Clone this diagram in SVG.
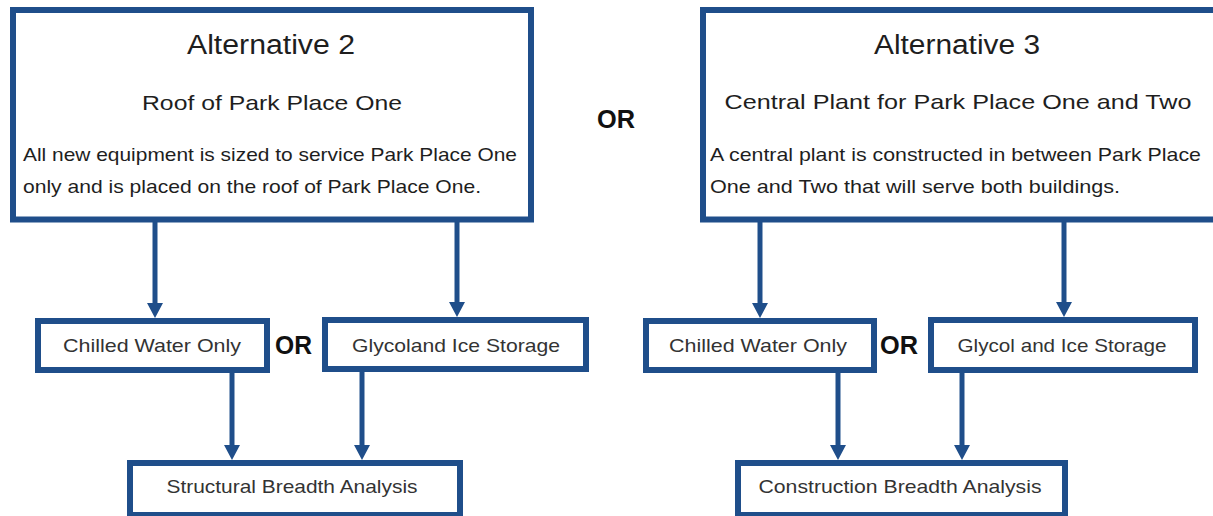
<svg xmlns="http://www.w3.org/2000/svg" width="1213" height="516" viewBox="0 0 1213 516">
  <style>
    .box { fill: #ffffff; stroke: #1f4e8a; stroke-width: 6; }
    .conn { stroke: #1f4e8a; stroke-width: 5; fill: none; }
    .t { font-family: "Liberation Sans", Arial, sans-serif; fill: #1e1e1e; }
    .title { font-size: 27px; text-anchor: middle; }
    .sub { font-size: 21px; text-anchor: middle; }
    .body { font-size: 19px; }
    .lab { font-size: 19px; fill: #333333; text-anchor: middle; }
    .or { font-family: "Liberation Sans", Arial, sans-serif; font-size: 25px; font-weight: bold; fill: #111111; }
  </style>
  <defs>
    <marker id="arrow" markerUnits="userSpaceOnUse" markerWidth="16" markerHeight="16" refX="0" refY="8" orient="auto">
      <path d="M0,0 L15,8 L0,16 z" fill="#1f4e8a"/>
    </marker>
  </defs>
  <rect width="1213" height="516" fill="#ffffff"/>

  <g id="connectors">
    <line class="conn" x1="155" y1="222" x2="155" y2="303" marker-end="url(#arrow)"/>
    <line class="conn" x1="457" y1="222" x2="457" y2="302" marker-end="url(#arrow)"/>
    <line class="conn" x1="232" y1="372" x2="232" y2="445" marker-end="url(#arrow)"/>
    <line class="conn" x1="362" y1="371" x2="362" y2="445" marker-end="url(#arrow)"/>
    <line class="conn" x1="760" y1="222" x2="760" y2="303" marker-end="url(#arrow)"/>
    <line class="conn" x1="1064" y1="222" x2="1064" y2="302" marker-end="url(#arrow)"/>
    <line class="conn" x1="838" y1="372" x2="838" y2="445" marker-end="url(#arrow)"/>
    <line class="conn" x1="962" y1="372" x2="962" y2="445" marker-end="url(#arrow)"/>
  </g>

  <g id="alt2">
    <rect class="box" x="13" y="10" width="518" height="209.5"/>
    <text class="t title" x="271" y="54" textLength="168" lengthAdjust="spacingAndGlyphs">Alternative 2</text>
    <text class="t sub" x="272" y="110" textLength="260" lengthAdjust="spacingAndGlyphs">Roof of Park Place One</text>
    <text class="t body" x="23" y="161" textLength="494" lengthAdjust="spacingAndGlyphs">All new equipment is sized to service Park Place One</text>
    <text class="t body" x="23" y="193" textLength="458" lengthAdjust="spacingAndGlyphs">only and is placed on the roof of Park Place One.</text>
  </g>

  <g id="alt3">
    <rect class="box" x="703" y="10" width="520" height="209.5"/>
    <text class="t title" x="957" y="54" textLength="166" lengthAdjust="spacingAndGlyphs">Alternative 3</text>
    <text class="t sub" x="958" y="109" textLength="467" lengthAdjust="spacingAndGlyphs">Central Plant for Park Place One and Two</text>
    <text class="t body" x="710" y="161" textLength="491" lengthAdjust="spacingAndGlyphs">A central plant is constructed in between Park Place</text>
    <text class="t body" x="710" y="193" textLength="410" lengthAdjust="spacingAndGlyphs">One and Two that will serve both buildings.</text>
  </g>

  <g id="or-top">
    <text class="or" x="597" y="128" textLength="38" lengthAdjust="spacingAndGlyphs">OR</text>
  </g>

  <g id="chilled-left">
    <rect class="box" x="38" y="321" width="229" height="49"/>
    <text class="t lab" x="152" y="352" textLength="178" lengthAdjust="spacingAndGlyphs">Chilled Water Only</text>
  </g>
  <g id="or-left">
    <text class="or" x="275" y="354" textLength="37" lengthAdjust="spacingAndGlyphs">OR</text>
  </g>
  <g id="glycol-left">
    <rect class="box" x="325" y="320" width="261" height="49"/>
    <text class="t lab" x="456" y="352" textLength="208" lengthAdjust="spacingAndGlyphs">Glycoland Ice Storage</text>
  </g>
  <g id="structural">
    <rect class="box" x="130" y="463" width="330" height="52"/>
    <text class="t lab" x="292" y="493" textLength="251" lengthAdjust="spacingAndGlyphs">Structural Breadth Analysis</text>
  </g>

  <g id="chilled-right">
    <rect class="box" x="646" y="321" width="228" height="49"/>
    <text class="t lab" x="758" y="352" textLength="178" lengthAdjust="spacingAndGlyphs">Chilled Water Only</text>
  </g>
  <g id="or-right">
    <text class="or" x="880" y="354" textLength="38" lengthAdjust="spacingAndGlyphs">OR</text>
  </g>
  <g id="glycol-right">
    <rect class="box" x="931" y="320" width="264" height="50"/>
    <text class="t lab" x="1062" y="352" textLength="209" lengthAdjust="spacingAndGlyphs">Glycol and Ice Storage</text>
  </g>
  <g id="construction">
    <rect class="box" x="738" y="463" width="327" height="52"/>
    <text class="t lab" x="900" y="493" textLength="283" lengthAdjust="spacingAndGlyphs">Construction Breadth Analysis</text>
  </g>
</svg>
